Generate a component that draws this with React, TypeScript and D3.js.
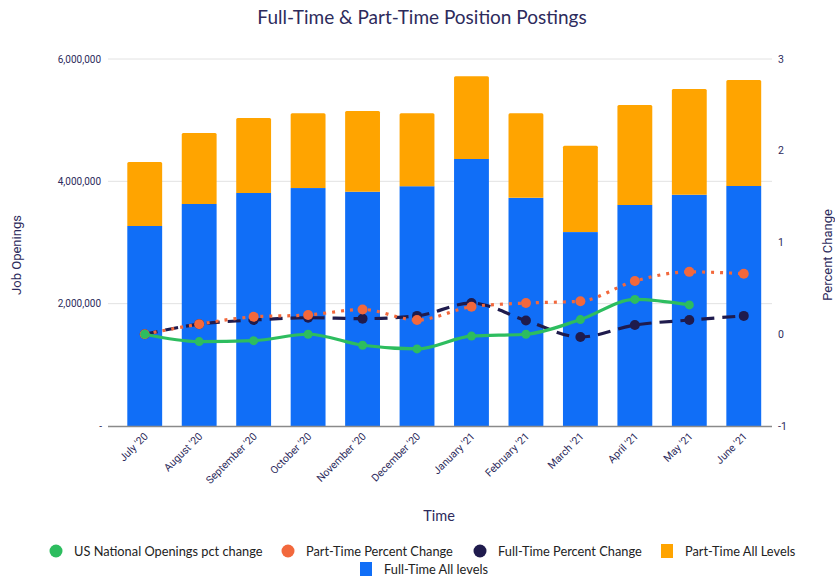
import { useEffect, useRef } from "react";
import * as d3 from "d3";

const months = ["July '20", "August '20", "September '20", "October '20", "November '20", "December '20", "January '21", "February '21", "March '21", "April '21", "May '21", "June '21"];
const fullTime = [3270000, 3630000, 3810000, 3890000, 3830000, 3920000, 4365000, 3730000, 3170000, 3615000, 3780000, 3925000];
const partTime = [1045000, 1160000, 1225000, 1225000, 1320000, 1195000, 1355000, 1385000, 1410000, 1635000, 1730000, 1730000];
const usPct = [0, -0.08, -0.07, 0, -0.12, -0.16, -0.02, 0, 0.16, 0.38, 0.32, null];
const ptPct = [0, 0.11, 0.19, 0.21, 0.27, 0.155, 0.3, 0.34, 0.36, 0.58, 0.68, 0.66];
const ftPct = [0, 0.11, 0.155, 0.18, 0.17, 0.2, 0.34, 0.15, -0.03, 0.1, 0.155, 0.2];
const leftTicks = [0, 2000000, 4000000, 6000000];
const rightTicks = [-1, 0, 1, 2, 3];

const C_BLUE = "#106ef7";
const C_ORANGE = "#ffa400";
const C_GREEN = "#2dbd5f";
const C_RED = "#f2683c";
const C_NAVY = "#1f1b4d";
const TXT = "#2d2b5c";

const W = 835, H = 576;

const App = () => {
  const svgRef = useRef(null);

  useEffect(() => {
    const svg = d3.select(svgRef.current);
    svg.selectAll("*").remove();

    const x = d3.scaleBand().domain(months).range([117.5, 771]).paddingInner(0.36).paddingOuter(0.18);
    const y = d3.scaleLinear().domain([0, 6000000]).range([426, 59]);
    const y2 = d3.scaleLinear().domain([-1, 3]).range([426, 59]);

    // title
    svg.append("text")
      .attr("x", 422).attr("y", 24)
      .attr("text-anchor", "middle")
      .attr("font-family", "Lato, sans-serif")
      .attr("font-size", 19)
      .attr("fill", TXT)
      .text("Full-Time & Part-Time Position Postings");

    // grid
    const gGrid = svg.append("g");
    gGrid.selectAll("line")
      .data(leftTicks.filter((d) => d > 0))
      .join("line")
      .attr("x1", 108).attr("x2", 772)
      .attr("y1", (d) => y(d)).attr("y2", (d) => y(d))
      .attr("stroke", "#e2e2e2").attr("stroke-width", 1);

    // bars
    const gBars = svg.append("g");
    months.forEach((m, i) => {
      const bx = x(m);
      const bw = x.bandwidth();
      gBars.append("rect")
        .attr("x", bx).attr("width", bw)
        .attr("y", y(fullTime[i])).attr("height", y(0) - y(fullTime[i]))
        .attr("fill", C_BLUE);
      gBars.append("path")
        .attr("d", () => {
          const top = y(fullTime[i] + partTime[i]);
          const bot = y(fullTime[i]);
          const r = 1.5;
          return `M${bx},${bot}V${top + r}Q${bx},${top} ${bx + r},${top}H${bx + bw - r}Q${bx + bw},${top} ${bx + bw},${top + r}V${bot}Z`;
        })
        .attr("fill", C_ORANGE);
    });

    // baseline
    svg.append("line")
      .attr("x1", 108).attr("x2", 772)
      .attr("y1", 426.5).attr("y2", 426.5)
      .attr("stroke", "#8a8a8a").attr("stroke-width", 1.5);

    // left axis labels
    svg.append("g").selectAll("text")
      .data(leftTicks)
      .join("text")
      .attr("x", (d) => (d === 0 ? 102 : 101))
      .attr("y", (d) => y(d) + 3.5)
      .attr("text-anchor", "end")
      .attr("font-family", "Roboto, sans-serif")
      .attr("font-size", 10)
      .attr("fill", TXT)
      .text((d) => (d === 0 ? "-" : d3.format(",")(d)));

    // right axis labels
    svg.append("g").selectAll("text")
      .data(rightTicks)
      .join("text")
      .attr("x", 778)
      .attr("y", (d) => y2(d) + 3.5)
      .attr("font-family", "Roboto, sans-serif")
      .attr("font-size", 10.5)
      .attr("fill", TXT)
      .text((d) => d);

    // x labels
    svg.append("g").selectAll("text")
      .data(months)
      .join("text")
      .attr("transform", (d) => `translate(${x(d) + x.bandwidth() / 2 + 4},${437}) rotate(-45)`)
      .attr("text-anchor", "end")
      .attr("font-family", "Roboto, sans-serif")
      .attr("font-size", 10.5)
      .attr("fill", TXT)
      .text((d) => d);

    // axis titles
    svg.append("text")
      .attr("transform", `translate(21,255) rotate(-90)`)
      .attr("text-anchor", "middle")
      .attr("font-family", "Roboto, sans-serif")
      .attr("font-size", 13)
      .attr("fill", TXT)
      .text("Job Openings");
    svg.append("text")
      .attr("transform", `translate(832,255) rotate(-90)`)
      .attr("text-anchor", "middle")
      .attr("font-family", "Roboto, sans-serif")
      .attr("font-size", 13)
      .attr("fill", TXT)
      .text("Percent Change");
    svg.append("text")
      .attr("x", 439).attr("y", 521)
      .attr("text-anchor", "middle")
      .attr("font-family", "Lato, sans-serif")
      .attr("font-size", 14.5)
      .attr("fill", TXT)
      .text("Time");

    // lines
    const cx = (i) => x(months[i]) + x.bandwidth() / 2;
    const series = [
      { vals: ftPct, color: C_NAVY, dash: "13,8", r: 5 },
      { vals: ptPct, color: C_RED, dash: "3,6", r: 5 },
      { vals: usPct, color: C_GREEN, dash: null, r: 4.5 },
    ];
    const gLines = svg.append("g");
    series.forEach((s) => {
      const pts = s.vals.map((v, i) => ({ v, i })).filter((d) => d.v !== null);
      const line = d3.line()
        .x((d) => cx(d.i))
        .y((d) => y2(d.v))
        .curve(d3.curveMonotoneX);
      gLines.append("path")
        .attr("d", line(pts))
        .attr("fill", "none")
        .attr("stroke", s.color)
        .attr("stroke-width", 3.2)
        .attr("stroke-dasharray", s.dash);
      gLines.append("g").selectAll("circle")
        .data(pts)
        .join("circle")
        .attr("cx", (d) => cx(d.i))
        .attr("cy", (d) => y2(d.v))
        .attr("r", s.r)
        .attr("fill", s.color);
    });

    // legend
    const legend = [
      { label: "US National Openings pct change", color: C_GREEN, shape: "circle", x: 56, y: 551 },
      { label: "Part-Time Percent Change", color: C_RED, shape: "circle", x: 288, y: 551 },
      { label: "Full-Time Percent Change", color: C_NAVY, shape: "circle", x: 480, y: 551 },
      { label: "Part-Time All Levels", color: C_ORANGE, shape: "rect", x: 667, y: 551 },
      { label: "Full-Time All levels", color: C_BLUE, shape: "rect", x: 366, y: 569 },
    ];
    const gLeg = svg.append("g");
    legend.forEach((l) => {
      if (l.shape === "circle") {
        gLeg.append("circle").attr("cx", l.x).attr("cy", l.y).attr("r", 6.5).attr("fill", l.color);
      } else {
        gLeg.append("rect").attr("x", l.x - 6).attr("y", l.y - 7).attr("width", 12).attr("height", 14).attr("fill", l.color);
      }
      gLeg.append("text")
        .attr("x", l.x + 18).attr("y", l.y + 4.5)
        .attr("font-family", "Lato, sans-serif")
        .attr("font-size", 12.8)
        .attr("fill", "#222")
        .text(l.label);
    });
  }, []);

  return (
    <svg ref={svgRef} width={W} height={H} style={{ position: "absolute", left: 0, top: 0, background: "white" }}></svg>
  );
};

export default App;
